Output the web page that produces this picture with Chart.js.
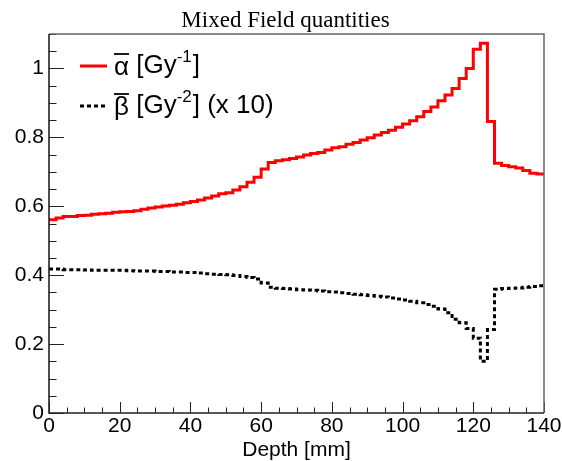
<!DOCTYPE html>
<html>
<head>
<meta charset="utf-8">
<script src="https://cdn.jsdelivr.net/npm/chart.js@4.4.1/dist/chart.umd.min.js"></script>
<style>
  html, body { margin: 0; padding: 0; background: #fff; }
</style>
</head>
<body>
<canvas id="mixedCanvas" width="562" height="461"></canvas>
<script>
// ------------------ DATA ------------------
const chartTitle = "Mixed Field quantities";
const xTitle = "Depth [mm]";

// histogram bin edges (mm), 2 mm bins
const binEdges = [
  0, 2, 4, 6, 8, 10, 12, 14, 16, 18, 20, 22, 24, 26, 28, 30, 32, 34, 36, 38,
  40, 42, 44, 46, 48, 50, 52, 54, 56, 58, 60, 62, 64, 66, 68, 70, 72, 74, 76, 78,
  80, 82, 84, 86, 88, 90, 92, 94, 96, 98, 100, 102, 104, 106, 108, 110, 112, 114, 116, 118,
  120, 122, 124, 126, 128, 130, 132, 134, 136, 138, 140
];

// mean alpha [Gy^-1] per bin
const alphaValues = [
  0.561, 0.566, 0.570, 0.570, 0.573, 0.574, 0.577, 0.578, 0.580, 0.583,
  0.584, 0.585, 0.587, 0.591, 0.595, 0.598, 0.601, 0.603, 0.606, 0.610,
  0.614, 0.618, 0.624, 0.630, 0.636, 0.639, 0.647, 0.657, 0.670, 0.684,
  0.708, 0.727, 0.732, 0.735, 0.739, 0.743, 0.749, 0.753, 0.756, 0.763,
  0.770, 0.773, 0.780, 0.785, 0.792, 0.799, 0.807, 0.814, 0.821, 0.829,
  0.839, 0.848, 0.860, 0.875, 0.888, 0.906, 0.923, 0.942, 0.971, 1.000,
  1.056, 1.073, 0.846, 0.725, 0.718, 0.715, 0.711, 0.704, 0.696, 0.694
];

// mean beta [Gy^-2] per bin, scaled by 10
const betaValues = [
  0.418, 0.418, 0.416, 0.416, 0.416, 0.415, 0.414, 0.414, 0.414, 0.414,
  0.414, 0.413, 0.412, 0.412, 0.412, 0.411, 0.411, 0.409, 0.409, 0.408,
  0.408, 0.406, 0.404, 0.403, 0.402, 0.401, 0.399, 0.396, 0.393, 0.389,
  0.377, 0.365, 0.362, 0.361, 0.360, 0.358, 0.357, 0.356, 0.354, 0.352,
  0.351, 0.349, 0.347, 0.345, 0.343, 0.341, 0.339, 0.337, 0.334, 0.331,
  0.328, 0.324, 0.320, 0.315, 0.310, 0.302, 0.291, 0.272, 0.262, 0.245,
  0.217, 0.150, 0.242, 0.359, 0.361, 0.362, 0.363, 0.365, 0.367, 0.369
];

// legend pieces: symbol, unit, exponent, trailing text
const seriesSymbols = ["\u03B1", "\u03B2"];
const seriesUnits = ["Gy", "Gy"];
const seriesPowers = ["-1", "-2"];
const seriesSuffix = ["", " (x 10)"];

const xMajorTicks = [0, 20, 40, 60, 80, 100, 120, 140];
const yMajorTicks = [0, 0.2, 0.4, 0.6, 0.8, 1];
const xMinorStep = 5;
const yMinorStep = 0.05;

const sansFont = "'Liberation Sans', Arial, sans-serif";
const serifFont = "'Liberation Serif', 'Times New Roman', serif";

// ------------------ HELPERS ------------------
// one point per lower bin edge, plus the closing edge
function histPoints(values) {
  const pts = values.map((v, i) => ({ x: binEdges[i], y: v }));
  pts.push({ x: binEdges[values.length], y: values[values.length - 1] });
  return pts;
}

// ------------------ FRAME + INWARD TICKS ------------------
const frameTicks = {
  id: "frameTicks",
  afterDatasetsDraw(chart) {
    const { ctx, chartArea: a, scales: { x, y } } = chart;
    ctx.save();

    // ticks point into the plot
    ctx.strokeStyle = "#222";
    ctx.lineWidth = 1;
    ctx.beginPath();
    for (let v = 0; v <= 140 + 1e-9; v += xMinorStep) {
      const px = Math.round(x.getPixelForValue(v)) + 0.5;
      const len = xMajorTicks.includes(Math.round(v)) ? 11 : 5.5;
      ctx.moveTo(px, a.bottom);
      ctx.lineTo(px, a.bottom - len);
    }
    for (let i = 0; i * yMinorStep <= 1.1 + 1e-9; i++) {
      const v = i * yMinorStep;
      const py = Math.round(y.getPixelForValue(v)) + 0.5;
      const len = i % 4 === 0 ? 15 : 7.5;
      ctx.moveTo(a.left, py);
      ctx.lineTo(a.left + len, py);
    }
    ctx.stroke();

    // frame: top and right in grey, axes in black
    ctx.strokeStyle = "#666";
    ctx.lineWidth = 1.5;
    ctx.beginPath();
    ctx.moveTo(a.left, a.top);
    ctx.lineTo(a.right, a.top);
    ctx.lineTo(a.right, a.bottom);
    ctx.stroke();

    ctx.strokeStyle = "#222";
    ctx.lineWidth = 1.6;
    ctx.beginPath();
    ctx.moveTo(a.left, a.top);
    ctx.lineTo(a.left, a.bottom);
    ctx.lineTo(a.right, a.bottom);
    ctx.stroke();
    ctx.restore();
  }
};

// ------------------ LEGEND ------------------
const histLegend = {
  id: "histLegend",
  afterDatasetsDraw(chart) {
    const { ctx, chartArea: a } = chart;
    const sampleX = a.left + 31;
    const sampleLen = 27;
    const textX = a.left + 65;
    ctx.save();
    chart.data.datasets.forEach((ds, i) => {
      const rowY = a.top + 32 + i * 40;

      ctx.strokeStyle = ds.borderColor;
      ctx.lineWidth = ds.borderWidth;
      ctx.setLineDash(ds.borderDash || []);
      ctx.beginPath();
      ctx.moveTo(sampleX, rowY);
      ctx.lineTo(sampleX + sampleLen, rowY);
      ctx.stroke();
      ctx.setLineDash([]);

      ctx.fillStyle = "#000";
      ctx.textBaseline = "middle";
      ctx.font = "26px " + sansFont;
      let cx = textX;
      const sym = seriesSymbols[i];
      ctx.fillText(sym, cx, rowY + 2);
      const symW = ctx.measureText(sym).width;
      // bar over the symbol
      ctx.strokeStyle = "#000";
      ctx.lineWidth = 1.8;
      ctx.beginPath();
      ctx.moveTo(cx, rowY - 12);
      ctx.lineTo(cx + symW, rowY - 12);
      ctx.stroke();
      cx += symW;

      const head = " [" + seriesUnits[i];
      ctx.fillText(head, cx, rowY);
      cx += ctx.measureText(head).width;

      ctx.font = "17px " + sansFont;
      ctx.fillText(seriesPowers[i], cx, rowY - 9);
      cx += ctx.measureText(seriesPowers[i]).width + 1;

      ctx.font = "26px " + sansFont;
      const tail = "]" + seriesSuffix[i];
      ctx.fillText(tail, cx, rowY);
    });
    ctx.restore();
  }
};

// ------------------ CHART ------------------
const ctx = document.getElementById("mixedCanvas").getContext("2d");

const chart = new Chart(ctx, {
  type: "line",
  data: {
    datasets: [
      {
        label: "\u03B1\u0305 [Gy\u207B\u00B9]",
        data: histPoints(alphaValues),
        stepped: "before",
        borderColor: "#ff0000",
        borderWidth: 3,
        borderJoinStyle: "miter",
        pointRadius: 0,
        fill: false
      },
      {
        label: "\u03B2\u0305 [Gy\u207B\u00B2] (x 10)",
        data: histPoints(betaValues),
        stepped: "before",
        borderColor: "#000000",
        borderWidth: 3,
        borderDash: [4, 3],
        borderJoinStyle: "miter",
        pointRadius: 0,
        fill: false
      }
    ]
  },
  options: {
    responsive: false,
    animation: false,
    events: [],
    layout: { padding: { left: 9, right: 0, top: 0, bottom: 0 } },
    plugins: {
      legend: { display: false },
      tooltip: { enabled: false },
      title: {
        display: true,
        text: chartTitle,
        color: "#000",
        font: { family: serifFont, size: 23, weight: "normal", lineHeight: 0.8 },
        padding: { top: 11.4, bottom: 4.2 }
      }
    },
    scales: {
      x: {
        type: "linear",
        min: 0,
        max: 140,
        grid: { display: false, drawTicks: false },
        border: { display: false },
        afterBuildTicks: (s) => { s.ticks = xMajorTicks.map((v) => ({ value: v })); },
        afterFit: (s) => { s.height = 48; s.paddingRight = 18; },
        ticks: {
          color: "#000",
          padding: 1,
          maxRotation: 0,
          autoSkip: false,
          font: { family: sansFont, size: 21 }
        },
        title: {
          display: true,
          text: xTitle,
          color: "#000",
          font: { family: sansFont, size: 21 },
          padding: { top: 0, bottom: -2 }
        }
      },
      y: {
        type: "linear",
        min: 0,
        max: 1.1,
        grid: { display: false, drawTicks: false },
        border: { display: false },
        afterBuildTicks: (s) => { s.ticks = yMajorTicks.map((v) => ({ value: v })); },
        afterFit: (s) => { s.width = 40; },
        ticks: {
          color: "#000",
          padding: 5,
          callback: (v) => String(v),
          font: { family: sansFont, size: 21 }
        }
      }
    }
  },
  plugins: [frameTicks, histLegend]
});
</script>
</body>
</html>
